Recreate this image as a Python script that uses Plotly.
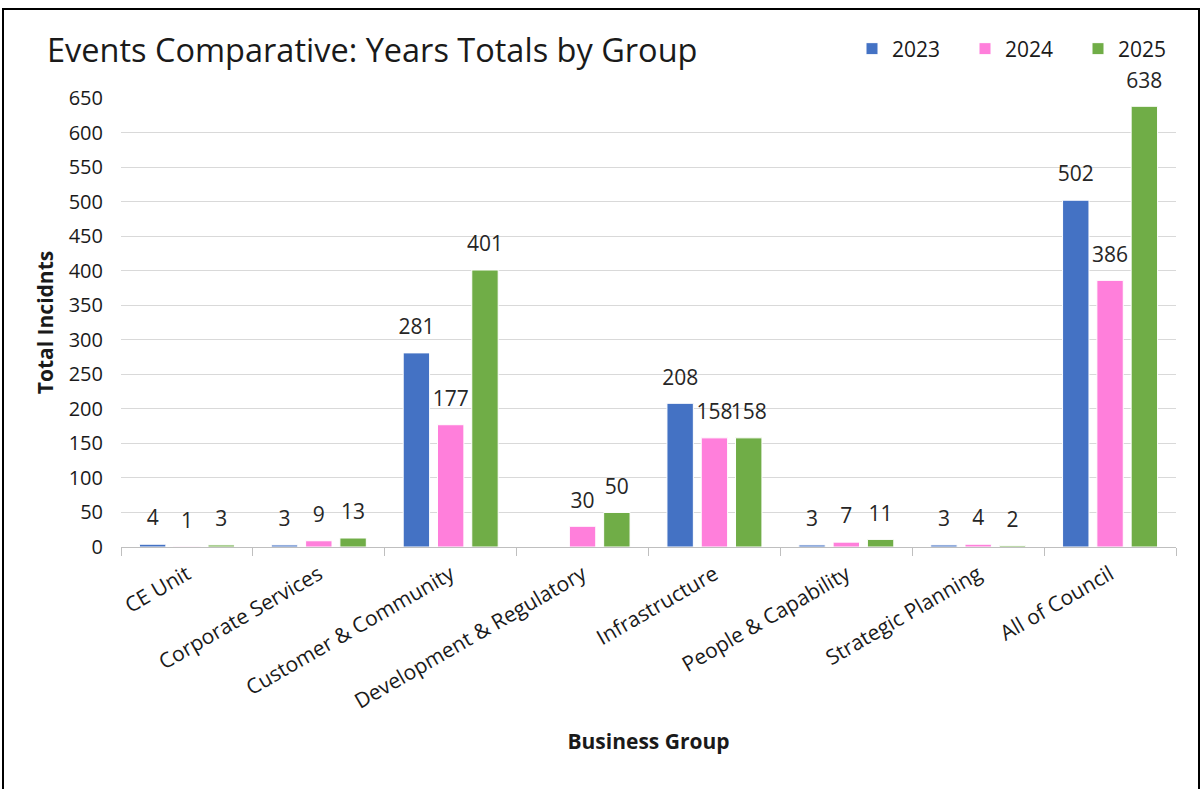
import plotly.graph_objects as go

# Business groups and yearly totals
groups = [
    "CE Unit",
    "Corporate Services",
    "Customer & Community",
    "Development & Regulatory",
    "Infrastructure",
    "People & Capability",
    "Strategic Planning",
    "All of Council",
]
years = ["2023", "2024", "2025"]
totals_2023 = [4, 3, 281, None, 208, 3, 3, 502]
totals_2024 = [1, 9, 177, 30, 158, 7, 4, 386]
totals_2025 = [3, 13, 401, 50, 158, 11, 2, 638]
y_ticks = list(range(0, 651, 50))

colors = ["#4472C4", "#FF7FDB", "#70AD47"]
series = [totals_2023, totals_2024, totals_2025]

FONT = "Open Sans"
INK = "#1a1a1a"

fig = go.Figure()

for name, vals, col in zip(years, series, colors):
    fig.add_trace(go.Bar(
        name=name,
        x=groups,
        y=vals,
        marker=dict(color=col, line=dict(color="white", width=1)),
        offsetgroup=name,
        hoverinfo="x+y+name",
    ))

# value labels, positioned with the same grouping as the bars
for name, vals in zip(years, series):
    fig.add_trace(go.Scatter(
        x=groups,
        y=vals,
        mode="markers+text",
        text=[("" if v is None else str(v)) for v in vals],
        textposition="top center",
        textfont=dict(family=FONT, size=21, color="#262626"),
        marker=dict(size=20, opacity=0),
        offsetgroup=name,
        showlegend=False,
        hoverinfo="skip",
        cliponaxis=False,
    ))

# outer frame around the chart
L, R, T, B = 121, 27, 98, 242
W, H = 1203, 789
pw, ph = W - L - R, H - T - B
fig.add_shape(
    type="rect", xref="paper", yref="paper",
    x0=(3 - L) / pw, x1=(1199 - L) / pw,
    y0=(H - B - 800) / ph, y1=(H - B - 9) / ph,
    line=dict(color="black", width=2), fillcolor="rgba(0,0,0,0)",
    layer="below",
)

fig.update_layout(
    width=W, height=H,
    margin=dict(l=L, r=R, t=T, b=B),
    paper_bgcolor="white",
    plot_bgcolor="white",
    barmode="group",
    bargap=0.22,
    bargroupgap=0.23,
    scattermode="group",
    scattergap=0.22,
    font=dict(family=FONT, color=INK),
    title=dict(
        text="Events Comparative: Years Totals by Group",
        x=47 / W, xanchor="left",
        y=1 - 51 / H, yanchor="middle",
        font=dict(family=FONT, size=32.5, color=INK),
    ),
    legend=dict(
        orientation="h",
        x=(852 - L) / pw, xanchor="left",
        y=(H - B - 49) / ph, yanchor="middle",
        font=dict(family=FONT, size=21, color=INK),
        itemwidth=30,
        entrywidth=68,
        tracegroupgap=0,
        bgcolor="rgba(0,0,0,0)",
    ),
    xaxis=dict(
        type="category",
        tickangle=-30,
        tickfont=dict(family=FONT, size=21, color=INK),
        ticklabelstandoff=6,
        showline=True, linecolor="#bfbfbf", linewidth=1,
        ticks="outside", ticklen=8, tickcolor="#bfbfbf",
        tickson="boundaries",
        showgrid=False,
        title=dict(text="<b>Business Group</b>", standoff=20,
                   font=dict(family=FONT, size=21, color=INK)),
    ),
    yaxis=dict(
        range=[0, 650],
        tickvals=y_ticks,
        tickfont=dict(family=FONT, size=20, color=INK),
        ticklabelstandoff=17,
        showgrid=True, gridcolor="#d9d9d9", gridwidth=1,
        zeroline=False,
        showline=False,
        ticks="",
        title=dict(text="<b>Total Incidnts</b>", standoff=9,
                   font=dict(family=FONT, size=21, color=INK)),
    ),
)

fig.write_html("out.html")
